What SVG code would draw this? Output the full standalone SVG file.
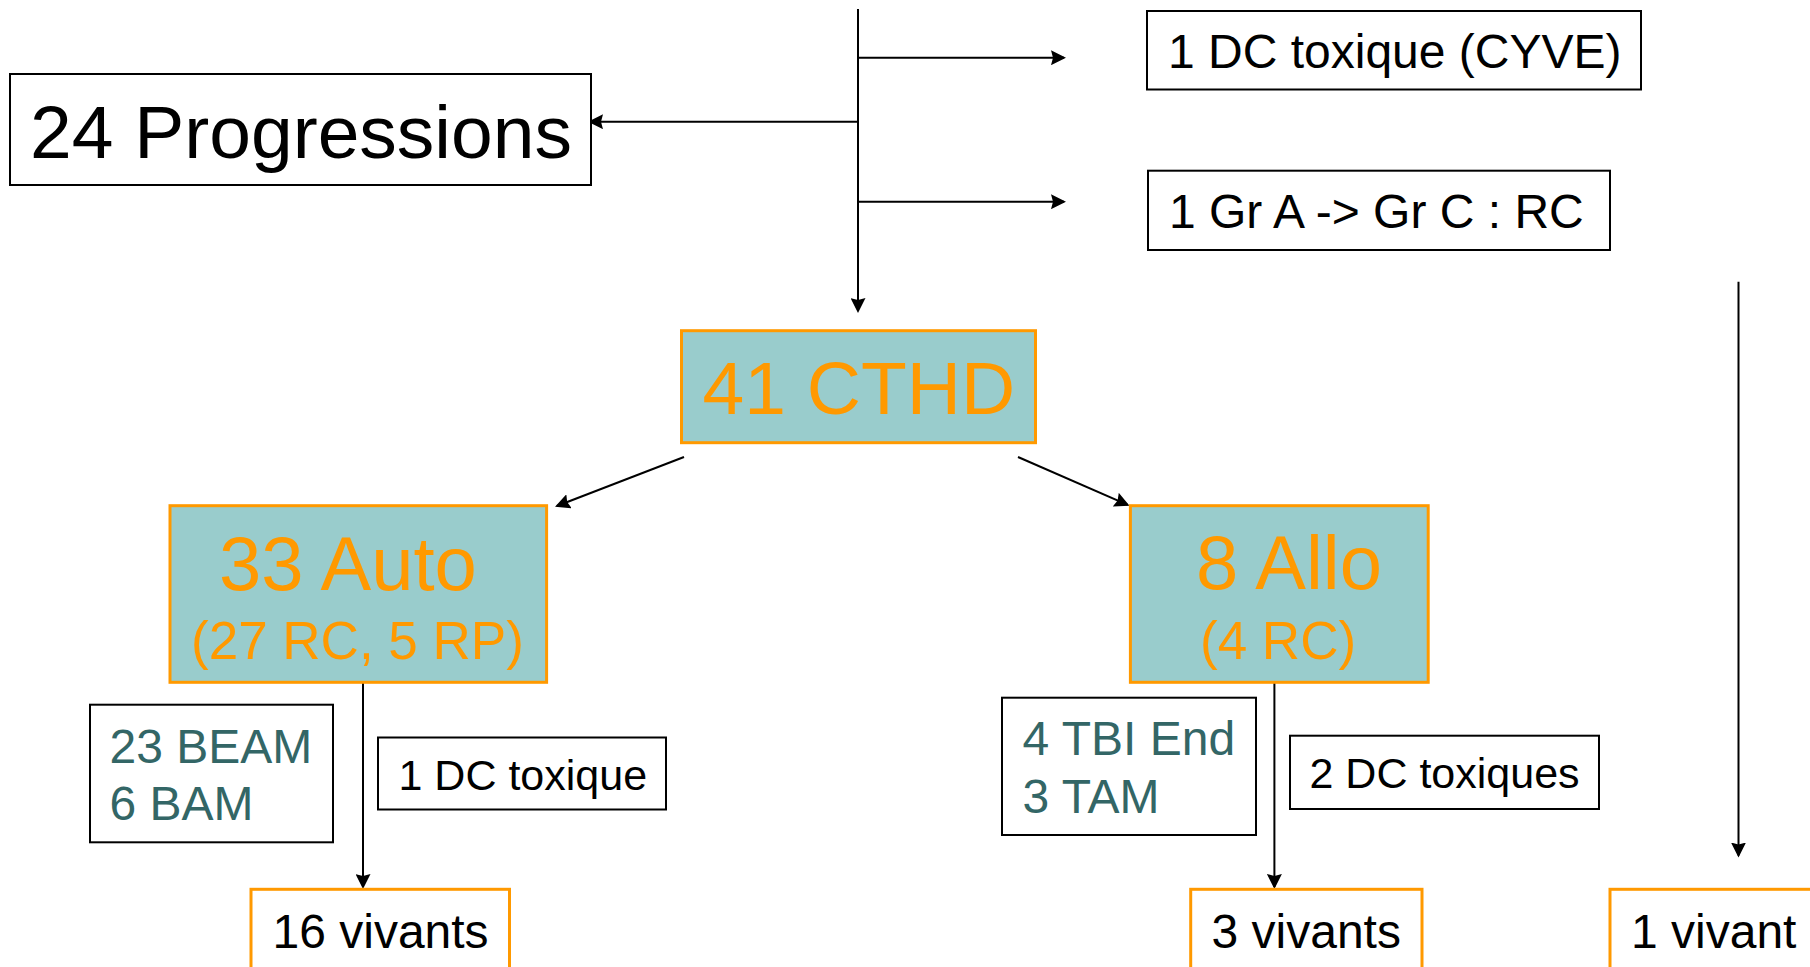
<svg xmlns="http://www.w3.org/2000/svg" width="1810" height="967" viewBox="0 0 1810 967">
<style>
text { font-family: "Liberation Sans", Arial, sans-serif; }
.bk { fill: #ffffff; stroke: #000000; stroke-width: 2; }
.hub { fill: #99CCCC; stroke: #FF9900; stroke-width: 3; }
.res { fill: #ffffff; stroke: #FF9900; stroke-width: 3; }
.t-big { font-size: 75px; fill: #000000; }
.t-huge { font-size: 76px; }
.t-or { fill: #FF9900; }
.t-sub { font-size: 53px; }
.t-teal { fill: #336666; font-size: 48px; }
.t-m { font-size: 48px; fill: #000000; }
.t-s { font-size: 43px; fill: #000000; }
.t-v { font-size: 48px; fill: #000000; }
.conn { fill: none; stroke: #000000; stroke-width: 2; }
</style>
<defs>
<marker id="arr" viewBox="0 0 15 15" refX="13" refY="7.5" markerWidth="15" markerHeight="15" markerUnits="userSpaceOnUse" orient="auto">
<path d="M0,0 L15,7.5 L0,15 L2,7.5 Z" fill="#000000"/>
</marker>
</defs>

<g id="connectors">
<path class="conn" d="M858,9 L858,311" marker-end="url(#arr)"/>
<path class="conn" d="M858,57.7 L1064,57.7" marker-end="url(#arr)"/>
<path class="conn" d="M858,201.7 L1064,201.7" marker-end="url(#arr)"/>
<path class="conn" d="M858,121.7 L590,121.7" marker-end="url(#arr)"/>
<path class="conn" d="M684,457 L556.9,506" marker-end="url(#arr)"/>
<path class="conn" d="M1018,457 L1127.7,504.9" marker-end="url(#arr)"/>
<path class="conn" d="M363,665 L363,887" marker-end="url(#arr)"/>
<path class="conn" d="M1274.4,665 L1274.4,887" marker-end="url(#arr)"/>
<path class="conn" d="M1738.5,281.7 L1738.5,855.5" marker-end="url(#arr)"/>
</g>

<g id="node-progressions">
<rect class="bk" x="10" y="74" width="581" height="111"/>
<text class="t-big" x="30" y="157.7">24 Progressions</text>
</g>

<g id="node-cyve">
<rect class="bk" x="1147" y="11" width="494" height="78.5"/>
<text class="t-m" x="1168" y="68">1 DC toxique (CYVE)</text>
</g>

<g id="node-grac">
<rect class="bk" x="1148" y="170.7" width="462" height="79.3"/>
<text class="t-m" font-size="48.5" x="1169" y="228">1 Gr A -&gt; Gr C : RC</text>
</g>

<g id="node-cthd">
<rect class="hub" x="681.5" y="330.7" width="354" height="112"/>
<text class="t-big t-or" x="702.5" y="414.3">41 CTHD</text>
</g>

<g id="node-auto">
<rect class="hub" x="170" y="505.7" width="376.6" height="176.6"/>
<text class="t-huge t-or" x="219" y="590">33 Auto</text>
<text class="t-sub t-or" x="191" y="659">(27 RC, 5 RP)</text>
</g>

<g id="node-allo">
<rect class="hub" x="1130.4" y="505.7" width="297.8" height="176.6"/>
<text class="t-huge t-or" x="1196" y="589.3">8 Allo</text>
<text class="t-sub t-or" x="1200" y="659">(4 RC)</text>
</g>

<g id="node-beam">
<rect class="bk" x="90" y="704.7" width="243" height="137.6"/>
<text class="t-teal" x="109.5" y="763.3">23 BEAM</text>
<text class="t-teal" x="109.5" y="820">6 BAM</text>
</g>

<g id="node-dc1">
<rect class="bk" x="378" y="737.5" width="288" height="72"/>
<text class="t-s" x="398.5" y="790">1 DC toxique</text>
</g>

<g id="node-tbi">
<rect class="bk" x="1002" y="697.7" width="254" height="137.3"/>
<text class="t-teal" x="1022.5" y="755">4 TBI End</text>
<text class="t-teal" x="1022.5" y="812.7">3 TAM</text>
</g>

<g id="node-dc2">
<rect class="bk" x="1290" y="735.7" width="309" height="73.3"/>
<text class="t-s" x="1309.5" y="787.7">2 DC toxiques</text>
</g>

<g id="node-v16">
<rect class="res" x="251" y="889.3" width="258.5" height="120"/>
<text class="t-v" x="272.5" y="947.7">16 vivants</text>
</g>

<g id="node-v3">
<rect class="res" x="1190.7" y="889.3" width="231.3" height="120"/>
<text class="t-v" x="1211.5" y="947.7">3 vivants</text>
</g>

<g id="node-v1">
<rect class="res" x="1610" y="889.3" width="260" height="120"/>
<text class="t-v" x="1631" y="947.7">1 vivant</text>
</g>
</svg>
